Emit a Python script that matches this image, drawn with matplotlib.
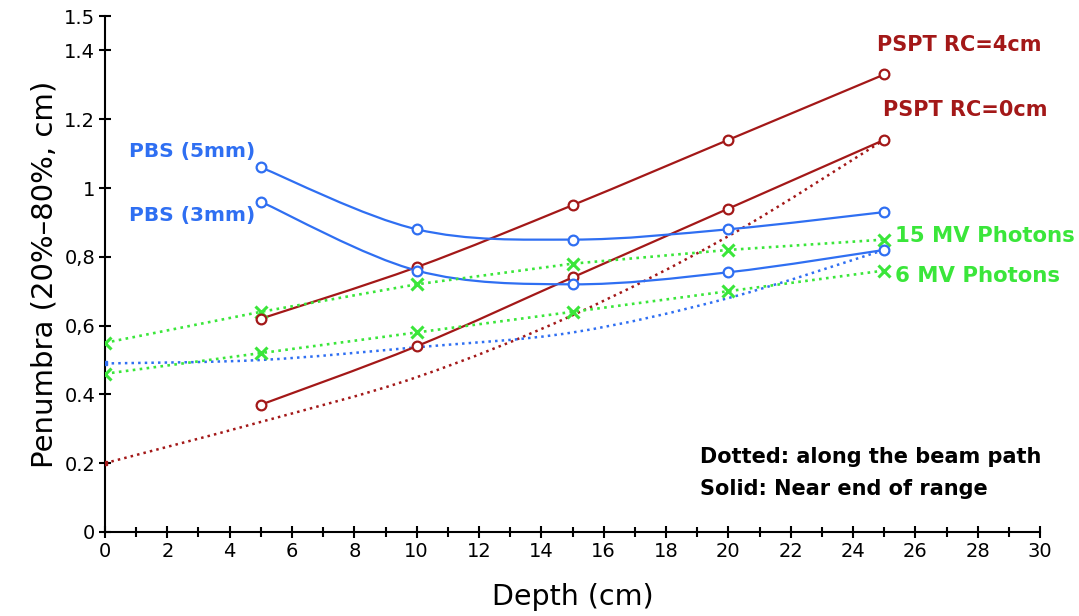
#Libraries
import numpy as np
import matplotlib.pyplot as plt
from matplotlib.path import Path
from matplotlib.patches import PathPatch

#Data
depth=[5,10,15,20,25]
depth_path=[0,5,10,15,20,25]

pspt_rc4=[0.62,0.77,0.95,1.14,1.33]     #solid, near end of range
pspt_rc0=[0.37,0.54,0.74,0.94,1.14]
pbs_5mm=[1.06,0.88,0.85,0.88,0.93]
pbs_3mm=[0.96,0.76,0.72,0.755,0.82]

pspt_path=[0.20,0.32,0.45,0.63,0.86,1.14]   #dotted, along the beam path
pbs_path=[0.49,0.50,0.537,0.58,0.68,0.82]
mv15=[0.55,0.64,0.72,0.78,0.82,0.85]
mv6=[0.46,0.52,0.58,0.64,0.70,0.76]

y_ticks=[0,0.2,0.4,0.6,0.8,1,1.2,1.4,1.5]
y_tick_labels=['0','0.2','0.4','0,6','0,8','1','1.2','1.4','1.5']

#Colors
red='#a31818'
blue='#2f6ff2'
green='#3ae63a'

def smooth_path(xs,ys):
    #Catmull-Rom curve through the points, as cubic bezier segments
    p=np.column_stack([xs,ys]).astype(float)
    ext=np.vstack([p[0],p,p[-1]])
    verts=[p[0]]
    codes=[Path.MOVETO]
    for i in range(len(p)-1):
        c1=ext[i+1]+(ext[i+2]-ext[i])/6
        c2=ext[i+2]-(ext[i+3]-ext[i+1])/6
        verts+=[c1,c2,ext[i+2]]
        codes+=[Path.CURVE4]*3
    return Path(verts,codes)

def add_curve(ax,xs,ys,color,ls,lw=1.6):
    ax.add_patch(PathPatch(smooth_path(xs,ys),fill=False,edgecolor=color,
                           linewidth=lw,linestyle=ls,zorder=2))

fig=plt.figure(figsize=(10.79,6.16),dpi=100)
ax=fig.add_axes([0.0973,0.1364,0.8666,0.8376])

#Dotted series
add_curve(ax,depth_path,pspt_path,red,':',1.8)
add_curve(ax,depth_path,pbs_path,blue,':',1.8)
ax.plot(depth_path[:1],pspt_path[:1],'s',color=red,markersize=2.5,zorder=3)
ax.plot(depth_path[:1],pbs_path[:1],'s',color=blue,markersize=2.5,zorder=3)
ax.plot(depth_path,mv15,':',color=green,linewidth=1.9,marker='x',markersize=8,mew=2.2,zorder=3)
ax.plot(depth_path,mv6,':',color=green,linewidth=1.9,marker='x',markersize=8,mew=2.2,zorder=3)

#Solid series
for vals,col in [(pspt_rc4,red),(pspt_rc0,red),(pbs_5mm,blue),(pbs_3mm,blue)]:
    add_curve(ax,depth,vals,col,'-')
    ax.plot(depth,vals,'o',color=col,markerfacecolor='white',markersize=7,mew=1.6,zorder=4)

#Labels
ax.text(27.4,1.416,'PSPT RC=4cm',color=red,fontsize=15,fontweight='bold',ha='center',va='center')
ax.text(27.6,1.227,'PSPT RC=0cm',color=red,fontsize=15,fontweight='bold',ha='center',va='center')
ax.text(2.8,1.105,'PBS (5mm)',color=blue,fontsize=14.5,fontweight='bold',ha='center',va='center')
ax.text(2.8,0.92,'PBS (3mm)',color=blue,fontsize=14.5,fontweight='bold',ha='center',va='center')
ax.text(25.35,0.86,'15 MV Photons',color=green,fontsize=15.3,fontweight='bold',ha='left',va='center')
ax.text(25.35,0.744,'6 MV Photons',color=green,fontsize=15.3,fontweight='bold',ha='left',va='center')
ax.text(19.1,0.218,'Dotted: along the beam path',color='black',fontsize=15,fontweight='bold',ha='left',va='center')
ax.text(19.1,0.125,'Solid: Near end of range',color='black',fontsize=15,fontweight='bold',ha='left',va='center')

#Axes
ax.set_xlim(0,30)
ax.set_ylim(0,1.5)
ax.set_xticks(np.arange(0,31,2))
ax.set_xticks(np.arange(0,31,1),minor=True)
ax.set_yticks(y_ticks)
ax.set_yticklabels(y_tick_labels)
ax.spines['top'].set_visible(False)
ax.spines['right'].set_visible(False)
ax.spines['left'].set_linewidth(1.5)
ax.spines['bottom'].set_linewidth(1.5)
ax.tick_params(which='both',direction='inout',length=8,width=1.5,labelsize=14,colors='black')
ax.tick_params(which='minor',length=7)
ax.tick_params(axis='x',pad=3)
ax.tick_params(axis='y',pad=3)
ax.set_xlabel('Depth (cm)',fontsize=20.5,labelpad=16)
ax.set_ylabel('Penumbra (20%–80%, cm)',fontsize=21,labelpad=4)

plt.savefig('out.png',dpi=100)
